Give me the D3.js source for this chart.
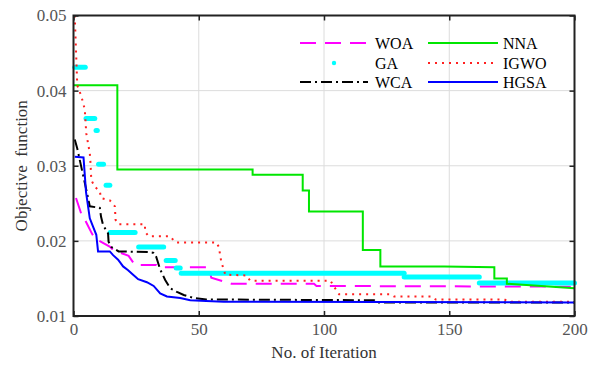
<!DOCTYPE html>
<html>
<head>
<meta charset="utf-8">
<script src="https://cdn.jsdelivr.net/npm/d3@7.9.0/dist/d3.min.js"></script>
<style>
  html, body { margin: 0; padding: 0; background: #fff; }
  svg { display: block; font-family: "Liberation Serif", "Times New Roman", serif; }
  .tick text { fill: #555; font-size: 17px; font-family: "Liberation Serif", "Times New Roman", serif; }
  .tick line { stroke: #222; }
  .domain { display: none; }
</style>
</head>
<body>
<svg id="chart" width="595" height="365"></svg>
<script>
// series as [iteration, objective] points
const woa = [[1,0.0257],[3.3,0.0234],[4.6,0.0228],[7.3,0.0210],[8.6,0.0203],[14.6,0.0192],[15.8,0.0188],[22,0.0180],[24.5,0.0168],[33,0.0168],[34,0.0165],[54,0.0165],[55,0.0151],[60,0.0146],[63,0.0143],[96,0.0143],[97,0.0140],[200,0.0139]];
const nna = [[0,0.0407],[17.5,0.0407],[17.5,0.0295],[71.5,0.0295],[71.5,0.0288],[91.5,0.0288],[91.5,0.0267],[94,0.0267],[94,0.0239],[115.5,0.0239],[115.5,0.0188],[122.5,0.0188],[122.5,0.0166],[148,0.0166],[168,0.0165],[168,0.0150],[173,0.0150],[173,0.0143],[200,0.0137]];
const igwo = [[0.5,0.05],[1.5,0.0407],[3.1,0.0393],[4.5,0.0375],[5.1,0.0343],[6.5,0.0317],[6.8,0.0303],[7.1,0.0281],[8.5,0.0272],[10.5,0.0266],[11,0.0257],[14.5,0.0254],[16.5,0.0246],[16.8,0.0228],[18,0.0222],[28.5,0.0222],[28.6,0.0212],[30,0.0206],[38.6,0.0206],[40.6,0.0198],[57,0.0198],[58,0.0192],[59,0.0172],[60.6,0.0155],[69,0.0154],[70.5,0.0147],[102.6,0.0147],[104,0.0139],[106,0.0129],[126.6,0.0129],[128,0.0126],[143,0.0126],[144.6,0.0122],[172,0.0122],[174,0.0119],[200,0.0119]];
const wca = [[0.5,0.0335],[1.5,0.0323],[3.8,0.0288],[5.5,0.0262],[6.5,0.0246],[10.5,0.0244],[11,0.0232],[11.8,0.0221],[13.8,0.0210],[14,0.0199],[15,0.0192],[18,0.0186],[30,0.0185],[32,0.0184],[33,0.0179],[34.6,0.0162],[36.6,0.0148],[38.6,0.0137],[41.3,0.0132],[44,0.0128],[48,0.0124],[53,0.0122],[120,0.0121],[121,0.0118],[200,0.0118]];
const hgsa = [[0.5,0.0312],[4,0.0311],[5,0.0265],[6.5,0.0230],[7.8,0.0219],[9.1,0.0208],[9.8,0.0186],[14.5,0.0186],[15.8,0.0181],[17.8,0.0175],[19.8,0.0166],[21.8,0.0161],[23.8,0.0155],[25.8,0.0149],[29.3,0.0145],[32,0.0140],[34.6,0.0130],[37.3,0.0126],[42.6,0.0124],[46.6,0.0121],[53,0.0120],[60,0.0119],[200,0.0118]];
// GA is drawn as markers only: runs of equal value
const gaStart = [0.5, 5, 9, 10, 13, 14.6, 26, 37, 41, 43, 132, 162];
const gaEnd   = [4.7, 8.5, 9.5, 12, 14.5, 24.6, 36, 40.6, 42.6, 132, 162, 200];
const gaValue = [0.0431, 0.0363, 0.0347, 0.0302, 0.0274, 0.0211, 0.0192, 0.0174, 0.0164, 0.0157, 0.0152, 0.0144];

const xTicks = [0, 50, 100, 150, 200];
const yTicks = [0.01, 0.02, 0.03, 0.04, 0.05];

const svg = d3.select('#chart');
const x = d3.scaleLinear().domain([0, 200]).range([73.5, 574.5]);
const y = d3.scaleLinear().domain([0.01, 0.05]).range([316, 15.5]);

// grid
const grid = svg.append('g');
grid.selectAll('line.gx').data(xTicks.slice(1, -1)).join('line')
  .attr('x1', d => x(d)).attr('x2', d => x(d)).attr('y1', y(0.05)).attr('y2', y(0.01))
  .attr('stroke', '#dcdcdc').attr('stroke-width', 1);
grid.selectAll('line.gy').data(yTicks.slice(1, -1)).join('line')
  .attr('x1', x(0)).attr('x2', x(200)).attr('y1', d => y(d)).attr('y2', d => y(d))
  .attr('stroke', '#dcdcdc').attr('stroke-width', 1);

// curves
const line = d3.line().x(d => x(d[0])).y(d => y(d[1]));
const plot = svg.append('g');

plot.append('path').datum(woa).attr('d', line).attr('fill', 'none')
  .attr('stroke', '#ff00ff').attr('stroke-width', 2).attr('stroke-dasharray', '16,9');

plot.selectAll('line.ga').data(gaValue).join('line')
  .attr('x1', (d, i) => x(gaStart[i])).attr('x2', (d, i) => x(gaEnd[i]))
  .attr('y1', d => y(d)).attr('y2', d => y(d))
  .attr('stroke', '#00ffff').attr('stroke-width', 5).attr('stroke-linecap', 'round');

plot.append('path').datum(wca).attr('d', line).attr('fill', 'none')
  .attr('stroke', '#000').attr('stroke-width', 2).attr('stroke-dasharray', '11,4,2,4');

plot.append('path').datum(nna).attr('d', line).attr('fill', 'none')
  .attr('stroke', '#00e600').attr('stroke-width', 2);

plot.append('path').datum(igwo).attr('d', line).attr('fill', 'none')
  .attr('stroke', '#ff2020').attr('stroke-width', 2).attr('stroke-dasharray', '2,5');

plot.append('path').datum(hgsa).attr('d', line).attr('fill', 'none')
  .attr('stroke', '#0000ff').attr('stroke-width', 2);

// box and axes
svg.append('rect')
  .attr('x', x(0)).attr('y', y(0.05))
  .attr('width', x(200) - x(0)).attr('height', y(0.01) - y(0.05))
  .attr('fill', 'none').attr('stroke', '#222').attr('stroke-width', 2);

const serif = '"Liberation Serif", "Times New Roman", serif';
svg.append('g').attr('transform', `translate(0,${y(0.01)})`)
  .call(d3.axisBottom(x).tickValues(xTicks).tickSize(-5).tickPadding(7).tickFormat(d3.format('d')))
  .attr('font-family', serif);
svg.append('g').attr('transform', `translate(0,${y(0.05)})`)
  .call(d3.axisTop(x).tickValues(xTicks).tickSize(-5).tickFormat(''));
svg.append('g').attr('transform', `translate(${x(0)},0)`)
  .call(d3.axisLeft(y).tickValues(yTicks).tickSize(-5).tickPadding(7).tickFormat(d3.format('.2f')))
  .attr('font-family', serif);
svg.append('g').attr('transform', `translate(${x(200)},0)`)
  .call(d3.axisRight(y).tickValues(yTicks).tickSize(-5).tickFormat(''));
svg.selectAll('.tick line').attr('stroke-width', 1.5);

// labels
svg.append('text').attr('x', (x(0) + x(200)) / 2).attr('y', 358)
  .attr('text-anchor', 'middle').attr('fill', '#333').attr('font-size', 17)
  .text('No. of Iteration');
svg.append('text').attr('transform', `translate(27,${(y(0.01) + y(0.05)) / 2}) rotate(-90)`)
  .attr('text-anchor', 'middle').attr('fill', '#333').attr('font-size', 17)
  .style('white-space', 'pre')
  .text('Objective  function');

// legend
const legNames = ['WOA', 'GA', 'WCA', 'NNA', 'IGWO', 'HGSA'];
const legColors = ['#ff00ff', '#00ffff', '#000', '#00e600', '#ff2020', '#0000ff'];
const legDash = ['16,9', null, '11,4,2,4', null, '2,5', null];
const legRows = [43, 63, 82];
const legCols = [[300, 368, 375], [428, 498, 503]];
const leg = svg.append('g');
legNames.forEach((name, i) => {
  const c = legCols[Math.floor(i / 3)];
  const ry = legRows[i % 3];
  if (name === 'GA') {
    leg.append('circle').attr('cx', (c[0] + c[1]) / 2).attr('cy', ry).attr('r', 2.2).attr('fill', legColors[i]);
  } else {
    leg.append('line').attr('x1', c[0]).attr('x2', c[1]).attr('y1', ry).attr('y2', ry)
      .attr('stroke', legColors[i]).attr('stroke-width', 2)
      .attr('stroke-dasharray', legDash[i]);
  }
  leg.append('text').attr('x', c[2]).attr('y', ry + 5.5)
    .attr('font-size', 16).attr('fill', '#000').text(name);
});
</script>
</body>
</html>
